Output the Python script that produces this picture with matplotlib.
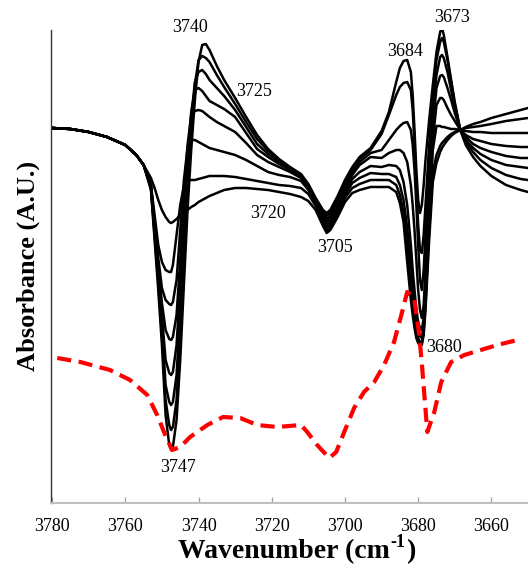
import matplotlib
matplotlib.use('Agg')
import matplotlib.pyplot as plt

plt.rcParams['font.family'] = ['Liberation Serif', 'DejaVu Serif']

# wavenumber grid shared by the black difference spectra (cm-1)
wavenumber = [3780, 3775, 3770, 3765, 3760, 3757, 3755, 3753, 3752, 3751, 3750, 3749, 3748, 3747.5,
              3747, 3746, 3745, 3744, 3743, 3742, 3741, 3740, 3739, 3738, 3737, 3735, 3733, 3730,
              3727, 3724, 3721, 3718, 3715, 3712, 3710, 3708, 3706, 3705, 3704, 3702, 3700, 3698,
              3696, 3693, 3690, 3688, 3686, 3685, 3684, 3683, 3682, 3681.5, 3681, 3680.5, 3680,
              3679.5, 3679, 3678.5, 3678, 3677, 3676, 3675, 3674, 3673.5, 3673, 3672, 3671, 3670,
              3668.5, 3667, 3665, 3663, 3660, 3656, 3652, 3650]

# absorbance, arbitrary units (x1000, offset)
start = [372, 371, 368, 363, 355, 345, 335]

s1 = start + [322, 312, 300, 290, 283, 278, 277, 278, 281, 285, 288, 290, 293, 295, 298, 300, 302,
              304, 307, 310, 312, 312, 311, 310, 308, 306, 303, 299, 290, 274, 267, 270, 283, 298,
              307, 310, 313, 313, 313, 308, 297, 278, 238, 200, 185, 172, 162, 157, 154, 155, 165,
              190, 260, 318, 337, 348, 352, 355, 360, 364, 367, 370, 373, 376, 378, 382, 386, 390, 392]
s2 = start + [315, 285, 255, 238, 230, 228, 228, 235, 265, 295, 314, 319, 320, 320, 321, 322, 323,
              324, 324, 324, 323, 321, 319, 317, 315, 314, 312, 306, 294, 277, 269, 272, 286, 302,
              312, 316, 320, 320, 320, 315, 305, 288, 255, 215, 198, 182, 170, 162, 158, 157, 168,
              195, 270, 328, 345, 354, 357, 359, 363, 366, 368, 370, 372, 373, 374, 376, 379, 381, 382]
s3 = start + [314, 278, 242, 212, 200, 196, 195, 198, 220, 270, 320, 352, 360, 360, 358, 356, 354,
              352, 350, 348, 345, 340, 334, 328, 325, 323, 319, 310, 297, 280, 272, 275, 289, 305,
              317, 322, 327, 326, 326, 323, 315, 300, 272, 235, 215, 197, 180, 170, 164, 162, 175,
              202, 280, 350, 374, 374, 373, 373, 372, 371, 371, 370, 369, 368, 368, 367, 367, 367, 367]
s4 = start + [314, 275, 235, 197, 170, 161, 160, 163, 185, 240, 305, 355, 385, 389, 390, 389, 386,
              383, 378, 374, 368, 357, 345, 338, 333, 328, 322, 312, 298, 282, 275, 278, 292, 308,
              321, 328, 334, 333, 335, 334, 330, 318, 295, 255, 230, 210, 190, 178, 172, 170, 182,
              210, 290, 360, 395, 402, 402, 400, 392, 385, 379, 370, 365, 361, 359, 356, 354, 353, 353]
s5 = start + [314, 272, 228, 185, 140, 127, 125, 128, 155, 215, 285, 342, 388, 410, 412, 409, 404,
              399, 395, 391, 383, 367, 351, 343, 336, 330, 323, 313, 299, 284, 278, 281, 295, 311,
              325, 335, 343, 342, 347, 350, 350, 347, 338, 315, 295, 270, 240, 210, 190, 182, 195,
              230, 310, 375, 412, 424, 425, 423, 412, 400, 387, 370, 363, 356, 352, 348, 344, 342, 342]
s6 = start + [313, 268, 222, 175, 115, 98, 95, 98, 125, 190, 265, 330, 382, 418, 428, 430, 426,
              420, 412, 404, 390, 373, 356, 346, 338, 331, 324, 314, 300, 286, 281, 284, 298, 314,
              328, 338, 347, 350, 360, 370, 374, 377, 378, 370, 355, 330, 295, 255, 220, 210, 230,
              265, 335, 390, 425, 443, 445, 442, 428, 410, 392, 370, 360, 352, 346, 340, 335, 333, 332]
s7 = start + [312, 265, 217, 165, 100, 75, 70, 73, 100, 165, 245, 315, 370, 415, 440, 444, 442,
              438, 425, 413, 396, 378, 361, 349, 340, 332, 325, 315, 301, 288, 284, 287, 301, 317,
              331, 341, 350, 366, 385, 405, 413, 417, 418, 410, 390, 355, 315, 275, 250, 247, 265,
              295, 355, 402, 440, 458, 462, 458, 440, 418, 396, 370, 358, 348, 340, 332, 325, 321, 320]
s8 = start + [310, 260, 210, 155, 85, 55, 50, 53, 80, 140, 215, 290, 350, 400, 438, 455, 456,
              450, 434, 420, 402, 383, 365, 351, 341, 333, 326, 316, 302, 290, 287, 290, 304, 320,
              333, 343, 352, 369, 388, 418, 432, 439, 440, 428, 405, 370, 330, 300, 287, 295, 315,
              340, 380, 415, 448, 468, 472, 465, 443, 420, 398, 370, 355, 343, 334, 324, 315, 310, 308]
spectra = [s1, s2, s3, s4, s5, s6, s7, s8]

# reference spectrum (red dashed)
ref_wn = [3778.6, 3772.3, 3764.2, 3758.7, 3754.0, 3751.3, 3749.1, 3747.2, 3745.0, 3742.3, 3737.6,
          3733.3, 3728.6, 3724.0, 3718.5, 3712.0, 3710.3, 3707.6, 3704.3, 3702.4, 3700.2, 3697.5,
          3694.8, 3692.0, 3689.3, 3686.6, 3684.6, 3683.0, 3681.1, 3679.7, 3678.9, 3677.5, 3675.6,
          3673.7, 3671.0, 3667.4, 3658.4, 3652.9]
ref_abs = [142, 138, 130, 120, 105, 85, 65, 50, 53, 63, 75, 83, 82, 75, 73, 75, 68, 55, 42, 48, 68,
           92, 108, 118, 135, 158, 185, 208, 202, 165, 132, 68, 88, 118, 138, 145, 155, 160]

peak_labels = ['3740', '3725', '3720', '3705', '3684', '3673', '3747', '3680']
label_x = [3742.3, 3724.8, 3721.0, 3702.7, 3683.6, 3670.7, 3745.6, 3672.9]
label_y = [473, 409, 286, 252, 449, 483, 32, 152]

fig = plt.figure(figsize=(5.28, 5.71), dpi=100)
ax = fig.add_axes([51 / 528, 68 / 571, 477 / 528, 473 / 571])

for s in spectra:
    ax.plot(wavenumber, s, color='black', lw=1.8, solid_joinstyle='round')

ax.plot(ref_wn, ref_abs, color='#ff0000', lw=3.0, linestyle=(0, (3.4, 1.8)),
        dash_capstyle='butt', zorder=3)

for t, x, y in zip(peak_labels, label_x, label_y):
    ax.text(x, y, t, fontsize=13, ha='center', va='center', clip_on=False)

ax.set_xlim(3780.3, 3650)
ax.set_ylim(-3, 470)
ax.set_xticks([3780, 3760, 3740, 3720, 3700, 3680, 3660])
ax.set_yticks([])
ax.tick_params(axis='x', direction='in', length=4, width=1, color='#a6a6a6',
               labelsize=13, pad=11)

for side in ['top', 'right']:
    ax.spines[side].set_visible(False)
ax.spines['left'].set_color('#333333')
ax.spines['left'].set_linewidth(1)
ax.spines['bottom'].set_color('#bfbfbf')
ax.spines['bottom'].set_linewidth(1.5)

# x label built from pieces so the superscript uses a plain hyphen
fig.canvas.draw()
r = fig.canvas.get_renderer()
ly = 1 - 552 / 571
p1 = fig.text(0, ly, 'Wavenumber (cm', fontsize=20, fontweight='bold', va='center')
p2 = fig.text(0, ly + 0.017, '-1', fontsize=13, fontweight='bold', va='center')
p3 = fig.text(0, ly, ')', fontsize=20, fontweight='bold', va='center')
w1 = p1.get_window_extent(r).width
w2 = p2.get_window_extent(r).width
w3 = p3.get_window_extent(r).width
x0 = 296 - (w1 + w2 + w3) / 2
p1.set_x(x0 / 528)
p2.set_x((x0 + w1 + 1) / 528)
p3.set_x((x0 + w1 + w2 + 1) / 528)

fig.text(28 / 528, 1 - 266 / 571, 'Absorbance (A.U.)', fontsize=19, fontweight='bold',
         rotation=90, ha='center', va='center')

fig.savefig('out.png', dpi=100)
